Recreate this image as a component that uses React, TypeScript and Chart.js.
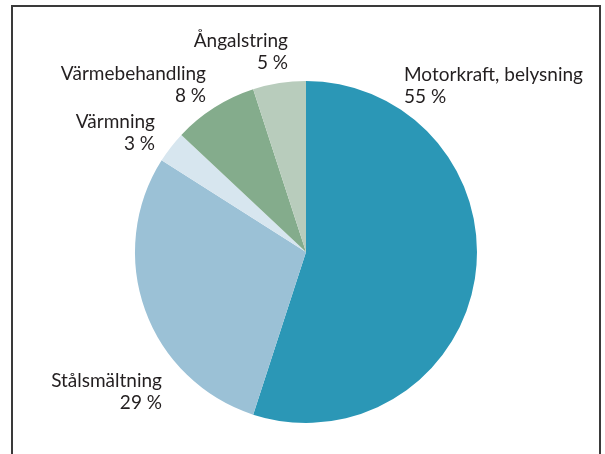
import React, { useEffect, useRef } from "react";
import { Chart, registerables } from "chart.js";

Chart.register(...registerables);

const categories = [
  "Motorkraft, belysning",
  "Stålsmältning",
  "Värmning",
  "Värmebehandling",
  "Ångalstring",
];
const shares = [55, 29, 3, 8, 5];
const sliceColors = ["#2b97b6", "#9bc1d6", "#d7e6ef", "#84ac8c", "#b8ccbc"];

// label placement relative to pie centre (px), alignment
const labelPlacement = [
  { dx: 98, dy: -171, align: "left" },
  { dx: -144, dy: 135, align: "right" },
  { dx: -151, dy: -124, align: "right" },
  { dx: -100, dy: -172, align: "right" },
  { dx: -18, dy: -205, align: "right" },
];

const labelPlugin = {
  id: "sliceLabels",
  afterDraw(chart: any) {
    const ctx = chart.ctx;
    const arc = chart.getDatasetMeta(0).data[0];
    if (!arc) return;
    const cx = arc.x;
    const cy = arc.y;
    ctx.save();
    ctx.fillStyle = "#231f20";
    ctx.font = "19px Lato, 'Open Sans', sans-serif";
    ctx.textBaseline = "alphabetic";
    categories.forEach((name, i) => {
      const p = labelPlacement[i];
      ctx.textAlign = p.align;
      ctx.fillText(name, cx + p.dx, cy + p.dy);
      ctx.fillText(`${shares[i]} %`, cx + p.dx, cy + p.dy + 22);
    });
    ctx.restore();
  },
};

export default function App() {
  const ref = useRef<HTMLCanvasElement | null>(null);
  useEffect(() => {
    if (!ref.current) return;
    const chart = new Chart(ref.current, {
      type: "pie",
      data: {
        labels: categories,
        datasets: [
          {
            data: shares,
            backgroundColor: sliceColors,
            borderWidth: 0,
          },
        ],
      },
      options: {
        animation: false,
        responsive: false,
        maintainAspectRatio: false,
        layout: { padding: { top: 81, bottom: 31, left: 135, right: 128 } },
        plugins: {
          legend: { display: false },
          tooltip: { enabled: false },
        },
      },
      plugins: [labelPlugin],
    });
    return () => chart.destroy();
  }, []);
  return (
    <div style={{ position: "fixed", left: 0, top: 0, width: 605, height: 454, background: "#fff", overflow: "hidden" }}>
      <div
        style={{
          position: "absolute",
          left: 11,
          top: 5,
          width: 586,
          height: 470,
          borderTop: "2px solid #3a3a3a",
          borderLeft: "2px solid #3a3a3a",
          borderRight: "2px solid #3a3a3a",
        }}
      />
      <canvas ref={ref} width={605} height={454} style={{ position: "absolute", left: 0, top: 0 }} />
    </div>
  );
}
